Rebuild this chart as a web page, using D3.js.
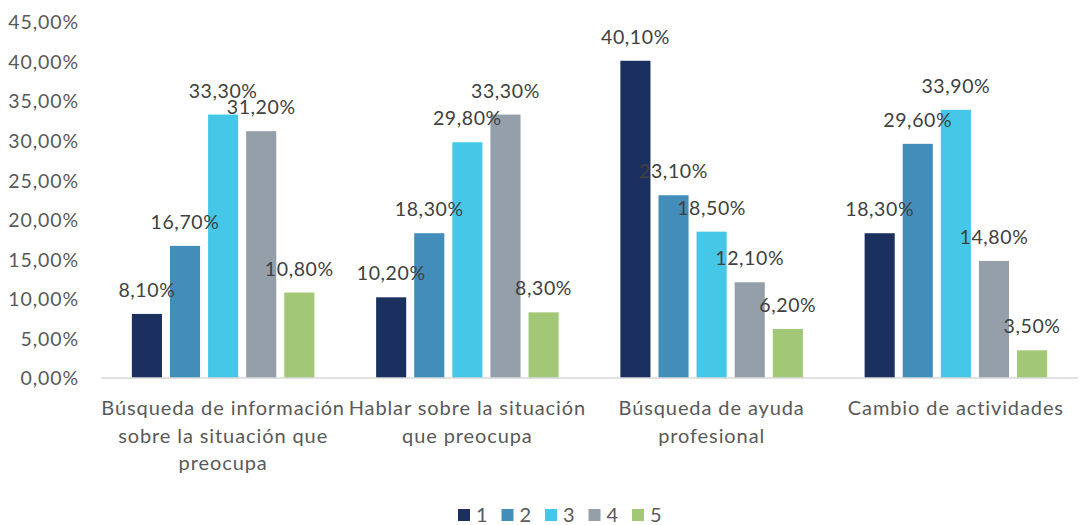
<!DOCTYPE html>
<html>
<head>
<meta charset="utf-8">
<script src="https://cdn.jsdelivr.net/npm/d3@7"></script>
<style>
  html, body { margin: 0; padding: 0; background: #ffffff; }
  svg { display: block; }
  text { font-family: Lato, "Open Sans", sans-serif; }
</style>
</head>
<body>
<svg id="chart" width="1081" height="525"></svg>
<script>
// Category labels, already split into the lines they wrap to
const categories = [
  ["Búsqueda de información", "sobre la situación que", "preocupa"],
  ["Hablar sobre la situación", "que preocupa"],
  ["Búsqueda de ayuda", "profesional"],
  ["Cambio de actividades"]
];
const seriesNames = ["1", "2", "3", "4", "5"];
const seriesColors = ["#1b305f", "#428db9", "#45c8e7", "#959fa9", "#a2c877"];

// Percentages per series, one entry per category
const series1 = [8.1, 10.2, 40.1, 18.3];
const series2 = [16.7, 18.3, 23.1, 29.6];
const series3 = [33.3, 29.8, 18.5, 33.9];
const series4 = [31.2, 33.3, 12.1, 14.8];
const series5 = [10.8, 8.3, 6.2, 3.5];
const seriesValues = [series1, series2, series3, series4, series5];

const yTicks = [0, 5, 10, 15, 20, 25, 30, 35, 40, 45];

const svg = d3.select("#chart");
const margin = { left: 101, right: 3, top: 22, bottom: 147 };
const W = 1081, H = 525;
const plotW = W - margin.left - margin.right;
const plotH = H - margin.top - margin.bottom;

const fmt = v => v.toFixed(2).replace(".", ",") + "%";

const x0 = d3.scaleBand()
  .domain(d3.range(categories.length))
  .range([margin.left, margin.left + plotW])
  .paddingInner(0.22).paddingOuter(0.11);

const x1 = d3.scaleBand()
  .domain(d3.range(seriesNames.length))
  .range([0, x0.bandwidth()])
  .paddingInner(0.21).paddingOuter(0.105);

const y = d3.scaleLinear().domain([0, 45]).range([margin.top + plotH, margin.top]);

// y axis: labels only
const yAxis = d3.axisLeft(y).tickValues(yTicks).tickFormat(fmt).tickSize(0).tickPadding(0);
const gy = svg.append("g").attr("transform", `translate(79,0)`).call(yAxis);
gy.select(".domain").remove();
gy.selectAll("text")
  .attr("fill", "#595959")
  .style("font-size", "19.5px")
  .style("letter-spacing", "0.9px")
  .attr("dy", "0.35em");

// bars
const groups = svg.append("g").selectAll("g")
  .data(categories.map((c, i) => i))
  .join("g")
  .attr("transform", i => `translate(${x0(i)},0)`);

groups.selectAll("rect")
  .data(ci => seriesValues.map((vals, si) => ({ si, v: vals[ci] })))
  .join("rect")
  .attr("x", d => x1(d.si))
  .attr("width", x1.bandwidth())
  .attr("y", d => y(d.v))
  .attr("height", d => y(0) - y(d.v))
  .attr("fill", d => seriesColors[d.si]);

// value labels above bars
groups.selectAll("text.val")
  .data(ci => seriesValues.map((vals, si) => ({ si, v: vals[ci] })))
  .join("text")
  .attr("class", "val")
  .attr("x", d => x1(d.si) + x1.bandwidth() / 2)
  .attr("y", d => y(d.v) - 17)
  .attr("text-anchor", "middle")
  .attr("fill", "#404040")
  .style("font-size", "19.5px")
  .style("letter-spacing", "0.6px")
  .text(d => fmt(d.v));

// baseline
svg.append("line")
  .attr("x1", margin.left).attr("x2", margin.left + plotW)
  .attr("y1", y(0)).attr("y2", y(0))
  .attr("stroke", "#d9d9d9").attr("stroke-width", 1.5);

// category labels
svg.append("g").selectAll("text")
  .data(categories)
  .join("text")
  .attr("x", (d, i) => x0(i) + x0.bandwidth() / 2)
  .attr("y", 415)
  .attr("text-anchor", "middle")
  .attr("fill", "#595959")
  .style("font-size", "20px")
  .style("letter-spacing", "0.9px")
  .each(function(lines) {
    const t = d3.select(this);
    lines.forEach((ln, k) => {
      t.append("tspan")
        .attr("x", t.attr("x"))
        .attr("dy", k === 0 ? 0 : 27.5)
        .text(ln);
    });
  });

// legend
const legendX = d3.scalePoint().domain(seriesNames).range([458, 632]);
const lg = svg.append("g").selectAll("g")
  .data(seriesNames)
  .join("g")
  .attr("transform", d => `translate(${legendX(d)},509)`);
lg.append("rect").attr("width", 12).attr("height", 12)
  .attr("fill", (d, i) => seriesColors[i]);
lg.append("text").attr("x", 18).attr("y", 12.5)
  .attr("fill", "#595959").style("font-size", "20px")
  .text(d => d);
</script>
</body>
</html>
